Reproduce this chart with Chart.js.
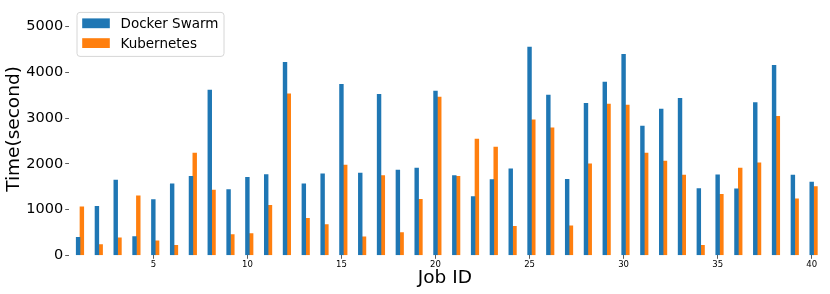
<!DOCTYPE html>
<html><head><meta charset="utf-8">
<script src="https://cdn.jsdelivr.net/npm/chart.js@4.4.0/dist/chart.umd.min.js"></script>
<style>html,body{margin:0;padding:0;background:#fff;overflow:hidden}</style>
</head><body>
<canvas id="c" width="830" height="294"></canvas>
<script>
const jobIds = [1,2,3,4,5,6,7,8,9,10,11,12,13,14,15,16,17,18,19,20,21,22,23,24,25,26,27,28,29,30,31,32,33,34,35,36,37,38,39,40];
const dockerSwarm = [394,1073,1643,409,1219,1562,1730,3614,1438,1708,1767,4219,1562,1781,3738,1796,3519,1862,1905,3592,1745,1285,1657,1891,4555,3504,1664,3322,3789,4395,2825,3197,3431,1460,1759,1453,3343,4154,1752,1599];
const kubernetes = [1059,234,380,1299,314,219,2234,1424,453,475,1095,3533,810,672,1971,402,1745,496,1226,3460,1730,2540,2365,635,2964,2789,642,2000,3307,3285,2234,2059,1752,219,1336,1905,2022,3037,1234,1504];
const xTickValues = [5,10,15,20,25,30,35,40];
const yTickValues = [0,1000,2000,3000,4000,5000];
const seriesNames = ['Docker Swarm','Kubernetes'];
const seriesColors = ['#1f77b4','#ff7f0e'];
const BAR_W = 0.2;
const FONT = 'DejaVu Sans';

const legendBox = {
  id: 'legendBox',
  afterDraw(chart) {
    const ctx = chart.ctx, ca = chart.chartArea;
    const x0 = ca.left + 7.8, y0 = ca.top + 9.2, w = 147, h = 44;
    ctx.save();
    ctx.beginPath();
    ctx.roundRect(x0 + 0.5, y0 + 0.5, w, h, 3);
    ctx.fillStyle = 'rgba(255,255,255,0.8)';
    ctx.fill();
    ctx.strokeStyle = '#d6d6d6';
    ctx.lineWidth = 1;
    ctx.stroke();
    chart.data.datasets.forEach((ds, i) => {
      const top = y0 + 6.5 + i * 19.8;
      ctx.fillStyle = ds.backgroundColor;
      ctx.fillRect(x0 + 5.7, top, 27.6, 9.8);
      ctx.fillStyle = '#000';
      ctx.font = '13.5px "' + FONT + '"';
      ctx.textBaseline = 'alphabetic';
      ctx.fillText(ds.label, x0 + 44, top + 10);
    });
    ctx.restore();
  }
};

new Chart(document.getElementById('c'), {
  type: 'bar',
  data: {
    datasets: [
      { label: seriesNames[0], data: jobIds.map((j, i) => ({ x: j, y: dockerSwarm[i] })),
        backgroundColor: seriesColors[0], grouped: false, categoryPercentage: 1, barPercentage: 1 },
      { label: seriesNames[1], data: jobIds.map((j, i) => ({ x: j + BAR_W, y: kubernetes[i] })),
        backgroundColor: seriesColors[1], grouped: false, categoryPercentage: 1, barPercentage: 1 }
    ]
  },
  options: {
    responsive: false,
    devicePixelRatio: 1,
    animation: false,
    layout: { padding: { left: 0, right: 8.9, top: 2.7, bottom: 0 } },
    plugins: { legend: { display: false }, tooltip: { enabled: false } },
    scales: {
      x: {
        type: 'linear', min: 0.5, max: 40.5, offset: false,
        afterBuildTicks: s => { s.ticks = xTickValues.map(v => ({ value: v })); },
        afterFit: s => { s.height = 38.7; s.paddingLeft = 0; s.paddingRight = 0; },
        border: { display: false },
        grid: { display: true, drawOnChartArea: false, offset: false, tickLength: 3.5, tickColor: '#333', lineWidth: 0.8 },
        ticks: { font: { family: FONT, size: 8.5 }, color: '#000', padding: 1, autoSkip: false, maxRotation: 0, callback: v => String(v) },
        title: { display: true, text: 'Job ID', font: { family: FONT, size: 18.5 }, color: '#000', padding: { top: 0, bottom: 5 } }
      },
      y: {
        min: 0, max: 5525,
        afterBuildTicks: s => { s.ticks = yTickValues.map(v => ({ value: v })); },
        afterFit: s => { s.width = 68.7; s.paddingTop = 0; s.paddingBottom = 0; },
        border: { display: false },
        grid: { display: true, drawOnChartArea: false, tickLength: 3.5, tickColor: '#333', lineWidth: 0.8 },
        ticks: { font: { family: FONT, size: 14.5 }, color: '#000', padding: 2, callback: v => String(v) },
        title: { display: true, text: 'Time(second)', font: { family: FONT, size: 18.5 }, color: '#000', padding: { top: 3, bottom: 0 } }
      }
    }
  },
  plugins: [legendBox]
});
</script>
</body></html>
